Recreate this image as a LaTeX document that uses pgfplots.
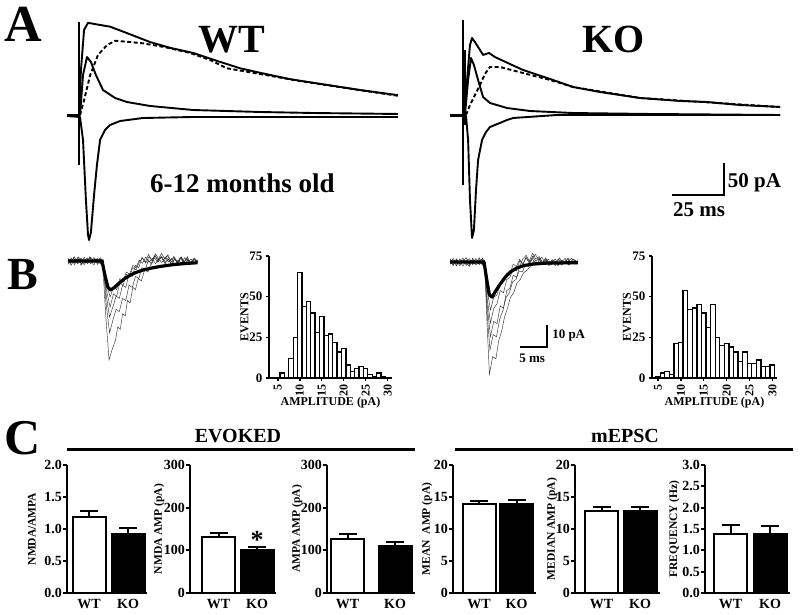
\documentclass[border=0pt]{standalone}
\usepackage{fontspec}
\setmainfont{Liberation Serif}
\usepackage{pgfplots}
\pgfplotsset{compat=1.18}
\newcommand\fs[1]{\fontsize{#1}{#1}\selectfont\bfseries}

\pgfplotsset{
  trace/.style={scale only axis, axis lines=none, clip=false, anchor=south west},
  tr/.style={black, line width=1.9pt, line join=round},
  thin/.style={black!80, line width=0.45pt},
  avg/.style={black, line width=3.2pt, line join=round},
  bars/.style={scale only axis, anchor=south west, height=128pt, xmin=0, ymin=0,
    axis x line*=bottom, axis y line*=left,
    axis line style={-, line width=2.4pt},
    ytick align=outside, major tick length=4pt,
    every tick/.style={black, line width=2pt},
    xtick style={draw=none},
    xticklabels={WT,KO},
    tick label style={font=\fs{14}},
    xticklabel style={yshift=-3pt},
    yticklabel style={font=\fs{14}, inner xsep=1pt},
    /pgf/number format/assume math mode=true,
    ylabel style={font=\fs{11.5}, anchor=center},
    clip=false},
  bw/.style={ybar, bar width=33, draw=black, line width=2pt,
    error bars/y dir=plus, error bars/y explicit,
    error bars/error mark=|,
    error bars/error bar style={line width=2pt, black},
    error bars/error mark options={line width=2pt, mark size=9pt, black}},
  hist/.style={scale only axis, anchor=south west, height=122pt, ymin=0, ymax=75,
    axis x line*=bottom, axis y line*=left,
    axis line style={-, line width=2pt},
    xtick={5,10,...,30}, ytick={0,25,50,75},
    tick align=outside, major tick length=3pt,
    every tick/.style={black, line width=1.5pt},
    xticklabel style={rotate=90, anchor=east, font=\fs{12}},
    yticklabel style={font=\fs{13}},
    /pgf/number format/assume math mode=true,
    xlabel={AMPLITUDE (pA)}, ylabel={EVENTS},
    xlabel style={font=\fs{12}, at={(axis description cs:0.5,-0.2)}, anchor=center},
    ylabel style={font=\fs{12}, at={(axis description cs:-0.2,0.5)}, anchor=center},
    clip=false},
  hb/.style={ybar, bar width=1, fill=white, draw=black, line width=1.3pt}
}

\begin{document}
\begin{tikzpicture}[x=1pt, y=1pt]
\path[use as bounding box, fill=white] (0,0) rectangle (800,615);

% ---------- panel A ----------
\node[font=\fs{52}, anchor=base west, inner sep=0] at (4,{615-42}) {A};
\node[font=\fs{40}, anchor=base west, inner sep=0] at (198,{615-53}) {WT};
\node[font=\fs{40}, anchor=base west, inner sep=0] at (582,{615-53}) {KO};
\node[font=\fs{27}, anchor=base west, inner sep=0] at (150,{615-193}) {6-12 months old};

% WT evoked (ms, pA)
\begin{axis}[trace, at={(60pt,370pt)}, width=340pt, height=230pt,
  xmin=-3.37, xmax=160.1, ymin=-203.1, ymax=156.25]
\addplot[black, line width=1.5pt] coordinates {(5.8,145) (5.8,-78)};
\addplot[tr] coordinates {(0,0) (5.8,0) (6.7,70) (8.2,133) (10.1,144) (13.5,142)
  (20.7,138) (28.8,128) (39.9,114) (49.5,105) (60.6,97) (73.6,83) (83.2,73)
  (92.8,66) (107.2,56) (125,47) (140.9,39) (159.1,31)};
\addplot[tr, dash pattern=on 4pt off 2.5pt] coordinates {(6.25,0) (8.2,23) (11.1,62)
  (14.9,94) (19.2,109) (23.1,116) (30.3,114) (36.5,112) (47.1,106) (59.1,97)
  (68.8,86) (76.9,73) (92.8,64) (112,53) (159.1,30)};
\addplot[tr] coordinates {(0,0) (6.25,0) (7.7,62.5) (9.6,90.6) (11.5,82.8)
  (13.9,62.5) (17.3,39.1) (23.1,26.6) (28.8,20.3) (39.9,14.1) (60.6,7.8)
  (92.8,4.7) (118.8,3.1) (159.1,1.6)};
\addplot[tr] coordinates {(0,-1.6) (6.25,-3.1) (7.7,-39) (9.1,-133) (10.1,-187.5)
  (10.6,-195.3) (11.5,-183) (13,-125) (14.4,-78) (15.9,-39) (18.3,-23.4)
  (20.7,-15.6) (25.5,-9.4) (36.5,-4.7) (60.6,-3.1) (159.1,-3.1)};
\end{axis}

% KO evoked (ms, pA)
\begin{axis}[trace, at={(440pt,370pt)}, width=350pt, height=230pt,
  xmin=-4.81, xmax=163.46, ymin=-203.1, ymax=156.25]
\addplot[black, line width=1.5pt] coordinates {(6.25,148) (6.25,-109)};
\addplot[black, line width=1.5pt] coordinates {(7.2,101) (7.2,-16)};
\addplot[tr] coordinates {(0,0) (6.7,0) (8.2,54.7) (9.6,109.4) (10.6,120.3)
  (12,114) (14.4,101.6) (15.9,93.8) (17.3,95.3) (18.75,96.9) (21.6,90.6)
  (28.8,79.7) (35.1,70.3) (48.1,56.3) (59.1,43.8) (72.1,35.9) (91.3,26.6)
  (110.6,21.9) (123.6,20.3) (139.4,15.6) (158.7,12.5)};
\addplot[tr, dash pattern=on 4pt off 2.5pt] coordinates {(7.7,0) (9.6,15.6)
  (12,31.3) (14.4,46.9) (16.8,64.1) (19.2,75) (24,75) (35.1,65.6) (48.1,54.7)
  (59.1,43.8) (91.3,26.6) (158.7,12.5)};
\addplot[tr] coordinates {(0,0) (7.2,0) (8.7,54.7) (10.1,89) (11.5,78.1)
  (13.5,54.7) (15.9,28.1) (19.2,18.8) (27.4,10.9) (38.5,6.25) (59.1,3.1)
  (96.2,1.6) (158.7,0)};
\addplot[tr] coordinates {(0,-1.6) (7.7,-1.6) (8.7,-39) (9.6,-132.8)
  (10.6,-192.2) (11.5,-179.7) (12.5,-117.2) (13.5,-70.3) (15.4,-39)
  (17.3,-26.6) (19.2,-18.8) (21.6,-15.6) (24,-12.5) (27.4,-7.8) (30.3,-4.7)
  (51.4,0) (158.7,0)};
% scale bar 25 ms / 50 pA
\draw[black, line width=2pt] (106.7,-125) -- (131.7,-125) -- (131.7,-75);
\node[font=\fs{21}, anchor=west, inner sep=0] at (133.5,-106) {50 pA};
\node[font=\fs{21}, anchor=center, inner sep=0] at (119.7,-148) {25 ms};
\end{axis}

% ---------- panel B ----------
\node[font=\fs{46}, anchor=base west, inner sep=0] at (7,{615-290}) {B};

% WT mEPSC (ms, pA)
\begin{axis}[trace, at={(65.3pt,233pt)}, width=135pt, height=134.2pt,
  xmin=-0.5, xmax=24.5, ymin=-55, ymax=6]
\addplot[thin] coordinates {(0,0.8) (0.5,-1.2) (1,1.5) (1.5,-0.5) (2,1.8) (2.5,-1.5)
  (3,0.6) (3.5,-0.9) (4,1.9) (4.5,-0.4) (5,1.1) (5.5,-1.6) (6,0.9) (6.4,-0.5)
  (7,-25) (7.6,-45) (8.2,-40) (8.8,-36) (9.2,-30) (9.7,-31) (10.1,-24) (10.6,-25)
  (11,-18) (11.5,-19) (12,-12) (12.5,-13) (13,-8) (13.6,-9) (14.2,-4) (14.8,-5)
  (15.4,-1) (16,1.5) (16.6,-0.5) (17.2,2) (17.8,0) (18.4,2.5) (19,0.3) (19.6,2)
  (20.2,-0.8) (20.8,1.6) (21.4,-1) (22,1.2) (22.6,-1.5) (23.2,1) (24,-0.5)};
\addplot[thin] coordinates {(0,-0.8) (0.6,1.3) (1.2,-1.6) (1.8,0.7) (2.4,-0.3) (3,1.7)
  (3.6,-1.2) (4.2,0.4) (4.8,-1.8) (5.4,1.2) (6,-0.6) (6.5,0.5) (7,-18) (7.7,-32.7)
  (8.3,-27) (8.9,-22) (9.5,-23) (10.1,-17) (10.7,-18) (11.3,-11) (11.9,-12)
  (12.5,-7) (13.1,-8) (13.7,-3) (14.3,-4) (14.9,0.5) (15.5,-1.5) (16.1,2.5)
  (16.7,0.5) (17.3,3.5) (17.9,1) (18.5,2.8) (19.1,-0.5) (19.7,1.8) (20.3,-1.2)
  (20.9,1.4) (21.5,-0.6) (22.1,2) (22.7,-1.1) (23.3,0.9) (24,0.2)};
\addplot[thin] coordinates {(0,1.2) (0.6,-0.4) (1.2,1.9) (1.8,-1.3) (2.4,0.8) (3,-1.7)
  (3.6,0.9) (4.2,-0.2) (4.8,1.6) (5.4,-1.1) (6,0.4) (6.5,-0.8) (7.1,-16) (7.7,-25.5)
  (8.3,-21) (8.9,-16) (9.5,-17) (10.1,-11) (10.7,-12) (11.3,-6) (11.9,-7) (12.5,-2)
  (13.1,-3) (13.7,1.5) (14.3,-0.5) (14.9,3) (15.5,0.5) (16.1,2.5) (16.7,-0.5)
  (17.3,1.8) (17.9,-1) (18.5,1.2) (19.1,-1.4) (19.7,0.8) (20.3,-0.9) (20.9,1.7)
  (21.5,-0.3) (22.1,1.1) (22.7,-1.6) (23.3,0.6) (24,-0.4)};
\addplot[thin] coordinates {(0,-1.5) (0.6,0.4) (1.2,-0.7) (1.8,1.6) (2.4,-1.9) (3,0.3)
  (3.6,1.4) (4.2,-1.3) (4.8,0.7) (5.4,-0.2) (6,1.5) (6.5,-0.3) (7.1,-13) (7.8,-20.9)
  (8.4,-15) (9,-16) (9.6,-10) (10.2,-11) (10.8,-6) (11.4,-7) (12,-3) (12.6,-4)
  (13.2,-0.5) (13.8,1.5) (14.4,-1) (15,2) (15.6,0) (16.2,3.2) (16.8,1) (17.4,2)
  (18,-1.2) (18.6,0.9) (19.2,-1.5) (19.8,1.1) (20.4,-0.4) (21,1.8) (21.6,-1.2)
  (22.2,0.6) (22.8,-0.9) (23.4,1.3) (24,-0.6)};
\addplot[thin] coordinates {(0,0.3) (0.6,-1.9) (1.2,0.9) (1.8,-0.6) (2.4,1.4) (3,-0.9)
  (3.6,0.2) (4.2,1.7) (4.8,-0.5) (5.4,0.8) (6,-1.4) (6.5,0.6) (7.1,-10) (7.8,-16.4)
  (8.4,-12) (9,-13) (9.6,-8) (10.2,-9) (10.8,-5) (11.4,-6) (12,-2) (12.6,-3)
  (13.2,0.5) (13.8,-1) (14.4,1.8) (15,-0.6) (15.6,1.2) (16.2,-1.3) (16.8,0.9)
  (17.4,-0.7) (18,1.9) (18.6,-0.3) (19.2,1.1) (19.8,-1.6) (20.4,0.4) (21,-1.1)
  (21.6,1.5) (22.2,-0.2) (22.8,0.8) (23.4,-1.3) (24,0.5)};
\addplot[avg] coordinates {(0,0) (6.3,0) (6.8,-6) (7.4,-12) (7.9,-13.2) (8.6,-12)
  (9.5,-10) (10.5,-8) (11.5,-6.5) (12.5,-5.3) (13.9,-4.1) (15.5,-3.2) (17,-2.5)
  (19,-1.8) (21,-1.3) (23.1,-0.9) (24,-0.8)};
\end{axis}

% KO mEPSC (ms, pA)
\begin{axis}[trace, at={(447.3pt,232pt)}, width=135pt, height=134.2pt,
  xmin=-0.5, xmax=24.5, ymin=-55, ymax=6]
\addplot[thin] coordinates {(0,0.9) (0.6,-1.4) (1.2,1.2) (1.8,-0.3) (2.4,1.8) (3,-1.6)
  (3.6,0.5) (4.2,-0.8) (4.8,1.6) (5.4,-1.2) (6,0.7) (6.4,-0.4) (6.9,-30) (7.3,-51)
  (7.9,-43) (8.5,-44) (9,-36) (9.6,-31) (10.1,-25) (10.7,-20.5) (11.2,-16) (11.8,-14)
  (12.4,-9.5) (13,-8) (13.6,-5) (14.3,-3.6) (14.9,-2) (15.5,0.5) (16.1,-1) (16.7,1.6)
  (17.3,-0.8) (17.9,1.2) (18.5,-1.5) (19.1,0.9) (19.7,-0.4) (20.3,1.9) (20.9,-1.1)
  (21.5,0.6) (22.1,-1.3) (22.7,1.4) (23.7,-0.2)};
\addplot[thin] coordinates {(0,-1.1) (0.6,0.6) (1.2,-1.8) (1.8,1.4) (2.4,-0.5) (3,0.9)
  (3.6,-1.3) (4.2,1.7) (4.8,-0.2) (5.4,1.1) (6,-1.5) (6.4,0.3) (6.9,-24) (7.4,-40)
  (8,-33) (8.6,-34) (9.2,-26) (9.8,-22) (10.4,-16) (11,-14) (11.6,-9) (12.2,-8)
  (12.8,-4) (13.4,-4.5) (14,-1) (14.6,-2) (15.2,1.5) (15.8,3.5) (16.4,1) (17,2.2)
  (17.6,-0.6) (18.2,1.3) (18.8,-1.2) (19.4,0.5) (20,-1.7) (20.6,0.8) (21.2,-0.5)
  (21.8,1.5) (22.4,-0.9) (23,0.7) (23.7,-0.8)};
\addplot[thin] coordinates {(0,1.5) (0.6,-0.2) (1.2,0.8) (1.8,-1.7) (2.4,0.4) (3,1.9)
  (3.6,-0.7) (4.2,0.2) (4.8,-1.4) (5.4,0.6) (6,1.3) (6.4,-0.9) (6.9,-20) (7.5,-34)
  (8.1,-27) (8.7,-28) (9.3,-20) (9.9,-21) (10.5,-13) (11.1,-12) (11.7,-6) (12.3,-7)
  (12.9,-2) (13.5,1.5) (14.1,3) (14.7,0.5) (15.3,4) (15.9,1.2) (16.5,2.5) (17.1,-0.4)
  (17.7,1.4) (18.3,-1.1) (18.9,0.6) (19.5,-1.6) (20.1,1.2) (20.7,-0.3) (21.3,1.7)
  (21.9,-1.3) (22.5,0.4) (23.1,-0.6) (23.7,1)};
\addplot[thin] coordinates {(0,-0.4) (0.6,1.6) (1.2,-1.1) (1.8,0.2) (2.4,-1.8) (3,0.6)
  (3.6,1.5) (4.2,-1.2) (4.8,0.4) (5.4,-0.7) (6,1.8) (6.4,-0.2) (6.9,-17) (7.5,-27.7)
  (8.1,-21) (8.7,-19) (9.3,-13) (9.9,-14) (10.5,-8) (11.1,-7) (11.7,-3) (12.3,-4)
  (12.9,0.5) (13.5,-1) (14.1,1.8) (14.7,-0.5) (15.3,2.6) (15.9,0.3) (16.5,1.8)
  (17.1,-1.2) (17.7,0.5) (18.3,-1.6) (18.9,1.1) (19.5,-0.2) (20.1,1.4) (20.7,-1.4)
  (21.3,0.3) (21.9,1.6) (22.5,-0.8) (23.1,1) (23.7,-0.5)};
\addplot[thin] coordinates {(0,0.2) (0.6,-1.6) (1.2,1.4) (1.8,-0.9) (2.4,0.7) (3,-0.5)
  (3.6,-1.9) (4.2,1.1) (4.8,-0.6) (5.4,1.9) (6,-1) (6.4,0.8) (6.9,-13) (7.5,-21.8)
  (8.1,-16) (8.7,-15) (9.3,-10) (9.9,-9) (10.5,-5) (11.1,-5.5) (11.7,-1) (12.3,-2)
  (12.9,1.2) (13.5,-0.8) (14.1,2.2) (14.7,0) (15.3,1.5) (15.9,-1.4) (16.5,0.7)
  (17.1,-0.3) (17.7,1.9) (18.3,-0.8) (18.9,0.2) (19.5,1.3) (20.1,-1.2) (20.7,0.9)
  (21.3,-0.7) (21.9,0.5) (22.5,1.6) (23.1,-1) (23.7,0.3)};
\addplot[avg] coordinates {(0,0) (6.3,0) (6.8,-8) (7.3,-15) (7.8,-15.9) (8.5,-13)
  (9.3,-10) (10.2,-7) (11.2,-4.5) (12.4,-2.7) (13.7,-1.6) (15.5,-0.9) (18,-0.5)
  (23.7,-0.3)};
% scale bar 5 ms / 10 pA
\draw[black, line width=2pt] (13,-38.6) -- (18,-38.6) -- (18,-28.6);
\node[font=\fs{13}, anchor=west, inner sep=0] at (18.9,-33.6) {10 pA};
\node[font=\fs{13}, anchor=center, inner sep=0] at (15.2,-43.6) {5 ms};
\end{axis}

% amplitude histograms
\begin{axis}[hist, at={(269pt,237pt)}, width=123pt, xmin=3, xmax=31]
\addplot[hb] coordinates {(6,3) (7,0) (8,12) (9,25) (10,65) (11,44) (12,47) (13,40)
  (14,28) (15,38) (16,26) (17,27) (18,22) (19,16) (20,18) (21,8) (22,4) (23,6)
  (24,7) (25,6) (26,2) (27,1) (28,3) (29,1)};
\end{axis}
\begin{axis}[hist, at={(652pt,237pt)}, width=125pt, xmin=3.7, xmax=31]
\addplot[hb] coordinates {(5,1) (6,3) (7,4) (8,2) (9,21) (10,22) (11,54) (12,42)
  (13,43) (14,45) (15,40) (16,31) (17,45) (18,25) (19,20) (20,21) (21,19) (22,16)
  (23,10) (24,16) (25,9) (26,9) (27,11) (28,7) (29,7) (30,8)};
\end{axis}

% ---------- panel C ----------
\node[font=\fs{50}, anchor=base west, inner sep=0] at (4,{615-455}) {C};
\node[font=\fs{20}, anchor=base, inner sep=0] at (238,{615-443}) {EVOKED};
\node[font=\fs{20}, anchor=base, inner sep=0] at (625,{615-443}) {mEPSC};
\draw[line width=3pt] (67,{615-450}) -- (415,{615-450});
\draw[line width=3pt] (455,{615-450}) -- (793,{615-450});

\begin{axis}[bars, at={(67pt,22pt)}, width=80pt, xmax=80, ymax=2, ytick={0,0.5,...,2},
  yticklabel style={/pgf/number format/.cd, fixed, fixed zerofill, precision=1},
  xtick={22,61}, ylabel={NMDA/AMPA},
  ylabel style={at={(axis description cs:-0.4375,0.5)}}]
\addplot[fill=white, bw] coordinates {(22,1.18) +- (0,0.10)};
\addplot[fill=black, bw] coordinates {(61,0.92) +- (0,0.09)};
\end{axis}

\begin{axis}[bars, at={(190pt,22pt)}, width=86pt, xmax=86, ymax=300, ytick={0,100,200,300},
  xtick={28.5,67}, ylabel={NMDA AMP (pA)},
  ylabel style={at={(axis description cs:-0.36,0.5)}}]
\addplot[fill=white, bw] coordinates {(28.5,130.5) +- (0,9.5)};
\addplot[fill=black, bw] coordinates {(67,100.8) +- (0,7.7)};
\node[font=\fs{26}, anchor=center, inner sep=0] at (67,124) {*};
\end{axis}

\begin{axis}[bars, at={(327pt,22pt)}, width=88pt, xmax=88, ymax=300, ytick={0,100,200,300},
  xtick={20.5,68}, ylabel={AMPA AMP (pA)},
  ylabel style={at={(axis description cs:-0.34,0.5)}}]
\addplot[fill=white, bw] coordinates {(20.5,125.8) +- (0,11.8)};
\addplot[fill=black, bw] coordinates {(68,110) +- (0,8.8)};
\end{axis}

\begin{axis}[bars, at={(453pt,22pt)}, width=83pt, xmax=83, ymax=20, ytick={0,5,...,20},
  xtick={26,63.5}, ylabel={MEAN\ \ AMP (pA)},
  ylabel style={at={(axis description cs:-0.313,0.5)}}]
\addplot[fill=white, bw] coordinates {(26,13.86) +- (0,0.55)};
\addplot[fill=black, bw] coordinates {(63.5,13.86) +- (0,0.64)};
\end{axis}

\begin{axis}[bars, at={(575pt,22pt)}, width=85pt, xmax=85, ymax=20, ytick={0,5,...,20},
  xtick={26.5,65}, ylabel={MEDIAN AMP (pA)},
  ylabel style={at={(axis description cs:-0.27,0.5)}}]
\addplot[fill=white, bw] coordinates {(26.5,12.86) +- (0,0.62)};
\addplot[fill=black, bw] coordinates {(65,12.8) +- (0,0.6)};
\end{axis}

\begin{axis}[bars, at={(705pt,22pt)}, width=85pt, xmax=85, ymax=3, ytick={0,0.5,...,3},
  yticklabel style={/pgf/number format/.cd, fixed, fixed zerofill, precision=1},
  xtick={25.5,65}, ylabel={FREQUENCY (Hz)},
  ylabel style={at={(axis description cs:-0.36,0.5)}}]
\addplot[fill=white, bw] coordinates {(25.5,1.376) +- (0,0.21)};
\addplot[fill=black, bw] coordinates {(65,1.376) +- (0,0.2)};
\end{axis}
\end{tikzpicture}
\end{document}
